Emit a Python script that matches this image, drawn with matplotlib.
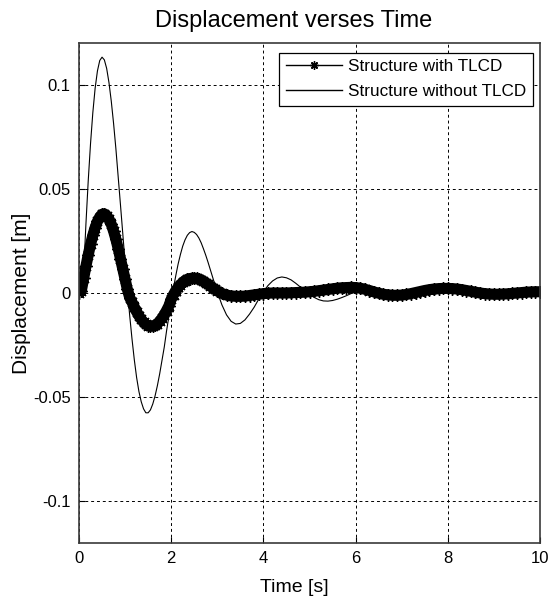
import numpy as np
import matplotlib
matplotlib.use("Agg")
import matplotlib.pyplot as plt

plt.rcParams['font.family'] = ['Liberation Sans', 'DejaVu Sans']

# time grid: 0.05 s steps up to 3 s, then 0.1 s steps up to 10 s
t = np.round(np.concatenate([np.arange(0, 3.0001, 0.05), np.arange(3.1, 10.0001, 0.1)]), 2)

# displacement without TLCD [m]
x_without = [
    0.0000, 0.0000, 0.0098, 0.0330, 0.0538, 0.0717, 0.0866, 0.0983, 0.1066, 0.1116,
    0.1132, 0.1119, 0.1078, 0.1010, 0.0921, 0.0814, 0.0693, 0.0560, 0.0422, 0.0283,
    0.0146, 0.0014, -0.0109, -0.0221, -0.0321, -0.0406, -0.0473, -0.0522, -0.0556, -0.0575,
    -0.0575, -0.0561, -0.0533, -0.0494, -0.0445, -0.0388, -0.0325, -0.0259, -0.0181, -0.0110,
    -0.0042, 0.0024, 0.0084, 0.0139, 0.0185, 0.0225, 0.0255, 0.0277, 0.0290, 0.0295,
    0.0291, 0.0281, 0.0264, 0.0241, 0.0212, 0.0181, 0.0147, 0.0111, 0.0075, 0.0039,
    0.0005,
    -0.0057, -0.0105, -0.0136, -0.0149, -0.0146, -0.0129, -0.0101, -0.0068, -0.0029, 0.0006,
    0.0036, 0.0058, 0.0072, 0.0077, 0.0073, 0.0063, 0.0047, 0.0029, 0.0010, -0.0007,
    -0.0021, -0.0032, -0.0038, -0.0039, -0.0036, -0.0030, -0.0022, -0.0013, -0.0003, 0.0006,
    0.0012, 0.0017, 0.0020, 0.0020, 0.0018, 0.0014, 0.0010, 0.0005, 0.0000, -0.0004,
    -0.0007, -0.0009, -0.0010, -0.0010, -0.0009, -0.0007, -0.0005, -0.0002, 0.0000, 0.0002,
    0.0004, 0.0005, 0.0005, 0.0005, 0.0004, 0.0003, 0.0002, 0.0001, 0.0000, -0.0001,
    -0.0002, -0.0002, -0.0003, -0.0003, -0.0002, -0.0002, -0.0001, 0.0000, 0.0000, 0.0001,
]

# displacement with TLCD [m]
x_with = [
    0.0000, 0.0010, 0.0070, 0.0128, 0.0183, 0.0233, 0.0277, 0.0314, 0.0344, 0.0365,
    0.0378, 0.0380, 0.0372, 0.0355, 0.0330, 0.0297, 0.0258, 0.0213, 0.0165, 0.0115,
    0.0065, 0.0017, -0.0022, -0.0045, -0.0068, -0.0090, -0.0110, -0.0126, -0.0140, -0.0151,
    -0.0157, -0.0160, -0.0159, -0.0155, -0.0147, -0.0136, -0.0121, -0.0104, -0.0084, -0.0062,
    -0.0030, -0.0008, 0.0012, 0.0027, 0.0040, 0.0051, 0.0060, 0.0066, 0.0069, 0.0071,
    0.0071, 0.0070, 0.0067, 0.0062, 0.0056, 0.0049, 0.0041, 0.0033, 0.0025, 0.0017,
    0.0010,
    -0.0002, -0.0010, -0.0014, -0.0016, -0.0016, -0.0015, -0.0012, -0.0009, -0.0006, -0.0003,
    -0.0001, 0.0000, 0.0000, 0.0000, 0.0000, 0.0001, 0.0002, 0.0003, 0.0004, 0.0006,
    0.0008, 0.0011, 0.0014, 0.0017, 0.0020, 0.0023, 0.0025, 0.0026, 0.0027, 0.0026,
    0.0023, 0.0018, 0.0012, 0.0005, -0.0001, -0.0006, -0.0009, -0.0011, -0.0011, -0.0010,
    -0.0007, -0.0003, 0.0002, 0.0007, 0.0012, 0.0016, 0.0019, 0.0021, 0.0022, 0.0022,
    0.0021, 0.0019, 0.0016, 0.0012, 0.0008, 0.0004, 0.0000, -0.0003, -0.0005, -0.0006,
    -0.0006, -0.0005, -0.0004, -0.0002, 0.0000, 0.0002, 0.0004, 0.0005, 0.0006, 0.0006,
]

xticks = [0, 2, 4, 6, 8, 10]
yticks = [-0.1, -0.05, 0, 0.05, 0.1]
ytick_labels = ['-0.1', '-0.05', '0', '0.05', '0.1']

fig = plt.figure(figsize=(5.5, 6), dpi=100)
ax = fig.add_axes([79 / 550, 1 - 543 / 600, 461 / 550, 500 / 600])

# the markers are so dense in the original that they merge into a solid band
ax.plot(t, x_with, color='black', lw=8, solid_capstyle='butt', solid_joinstyle='round')
ax.plot(t, x_with, color='black', lw=0.6, marker=(8, 2, 0), markersize=9,
        markeredgewidth=1.0, label='Structure with TLCD')
ax.plot(t, x_without, color='black', lw=0.8, label='Structure without TLCD')

ax.set_xlim(0, 10)
ax.set_ylim(-0.12, 0.12)
ax.set_xticks(xticks)
ax.set_xticklabels([str(v) for v in xticks])
ax.set_yticks(yticks)
ax.set_yticklabels(ytick_labels)
ax.tick_params(direction='in', length=4, width=0.8, labelsize=12, colors='black', pad=6)

ax.grid(True, color='black', linestyle=(0, (3, 3)), linewidth=0.7)
for s in ax.spines.values():
    s.set_color('#3a3a3a')
    s.set_linewidth(1.2)

fig.text(294 / 550, 1 - 27 / 600, 'Displacement verses Time', ha='center', va='baseline', fontsize=17)
ax.set_xlabel('Time [s]', fontsize=14)
ax.xaxis.set_label_coords((294 - 79) / 461, -0.072)
ax.set_ylabel('Displacement [m]', fontsize=15)
ax.yaxis.set_label_coords(-0.104, 0.5)

leg = ax.legend(loc='upper right', bbox_to_anchor=(0.985, 0.981), borderaxespad=0,
                fontsize=12.3, fancybox=False, framealpha=1, edgecolor='black',
                handlelength=3.3, handletextpad=0.35, borderpad=0.4, labelspacing=0.55)
leg.get_frame().set_linewidth(0.9)
leg.legend_handles[0].set_markersize(6)
leg.legend_handles[0].set_linewidth(1.0)
leg.legend_handles[1].set_linewidth(1.0)

fig.savefig('out.png', dpi=100)
